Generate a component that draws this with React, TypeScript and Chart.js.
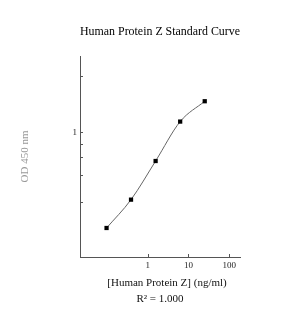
import React, { useEffect, useRef } from "react";
import { Chart, registerables } from "chart.js";

Chart.register(...registerables);

const TITLE = "Human Protein Z Standard Curve";
const X_TITLE = "[Human Protein Z] (ng/ml)";
const Y_TITLE = "OD 450 nm";
const R2_TEXT = "R\u00B2 = 1.000";

const concentrations = [0.098, 0.39, 1.5625, 6.25, 25];
const odValues = [0.418, 0.541, 0.769, 1.101, 1.325];

const xTicks = [1, 10, 100];
const yTicks = [0.53, 0.68, 0.8, 0.9, 1, 1.67];
const yLabeled = [1];

const X_MIN = 0.0219;
const X_MAX = 183;
const Y_MIN = 0.321;
const Y_MAX = 2.0;

const SERIF = '"Liberation Serif", "Times New Roman", serif';
const AXIS_COLOR = "#555555";

const overlay = {
  id: "overlay",
  afterDraw(chart: any) {
    const { ctx, chartArea, scales } = chart;
    const xs = scales.x;
    const ys = scales.y;
    ctx.save();
    ctx.strokeStyle = AXIS_COLOR;
    ctx.lineWidth = 1;
    ctx.beginPath();
    for (const v of xTicks) {
      const px = Math.round(xs.getPixelForValue(v)) + 0.5;
      ctx.moveTo(px, chartArea.bottom);
      ctx.lineTo(px, chartArea.bottom - 3);
    }
    for (const v of yTicks) {
      const py = Math.round(ys.getPixelForValue(v)) + 0.5;
      ctx.moveTo(chartArea.left, py);
      ctx.lineTo(chartArea.left + 3, py);
    }
    ctx.stroke();
    const cx = (chartArea.left + chartArea.right) / 2;
    ctx.fillStyle = "#111111";
    ctx.textAlign = "center";
    ctx.textBaseline = "middle";
    ctx.font = `11px ${SERIF}`;
    ctx.fillText(X_TITLE, cx + 7, chartArea.bottom + 26);
    ctx.fillText(R2_TEXT, cx, chartArea.bottom + 42);
    ctx.restore();
  },
};

export default function App() {
  const ref = useRef<HTMLCanvasElement | null>(null);
  useEffect(() => {
    if (!ref.current) return;
    const chart = new Chart(ref.current, {
      type: "scatter",
      data: {
        datasets: [
          {
            data: concentrations.map((c, i) => ({ x: c, y: odValues[i] })),
            showLine: true,
            cubicInterpolationMode: "monotone",
            borderColor: "#666666",
            borderWidth: 1,
            pointStyle: "rect",
            pointRadius: 3,
            pointBackgroundColor: "#000000",
            pointBorderColor: "#000000",
            pointBorderWidth: 0,
          },
        ],
      },
      options: {
        responsive: false,
        animation: false,
        layout: { padding: { left: 0, right: 58, top: 0, bottom: 0 } },
        plugins: {
          legend: { display: false },
          tooltip: { enabled: false },
          title: {
            display: true,
            fullSize: false,
            text: TITLE,
            color: "#000000",
            font: { family: SERIF, size: 12, weight: "normal" },
            padding: { top: 24.5, bottom: 17.1 },
          },
        },
        scales: {
          x: {
            type: "logarithmic",
            bounds: "data",
            min: X_MIN,
            max: X_MAX,
            afterBuildTicks: (s: any) => {
              s.ticks = xTicks.map((v) => ({ value: v }));
            },
            afterFit: (s: any) => {
              s.height = 75;
            },
            grid: { display: false, drawTicks: false },
            border: { display: true, color: AXIS_COLOR, width: 1 },
            ticks: {
              padding: 3,
              color: "#222222",
              font: { family: SERIF, size: 9 },
              maxRotation: 0,
              autoSkip: false,
              callback: (v: any) => String(v),
            },
          },
          y: {
            type: "logarithmic",
            bounds: "data",
            min: Y_MIN,
            max: Y_MAX,
            afterBuildTicks: (s: any) => {
              s.ticks = yTicks.map((v) => ({ value: v }));
            },
            afterFit: (s: any) => {
              s.width = 80;
            },
            grid: { display: false, drawTicks: false },
            border: { display: true, color: AXIS_COLOR, width: 1 },
            title: {
              display: true,
              text: Y_TITLE,
              color: "#999999",
              font: { family: SERIF, size: 11 },
              padding: { top: 19, bottom: 0 },
            },
            ticks: {
              padding: 3,
              color: "#222222",
              font: { family: SERIF, size: 9 },
              autoSkip: false,
              callback: (v: any) => (yLabeled.includes(Number(v)) ? String(v) : ""),
            },
          },
        },
      },
      plugins: [overlay],
    });
    return () => chart.destroy();
  }, []);
  return (
    <div style={{ position: "absolute", left: 0, top: 0, width: 298, height: 332, background: "#ffffff" }}>
      <canvas ref={ref} width={298} height={332} />
    </div>
  );
}
